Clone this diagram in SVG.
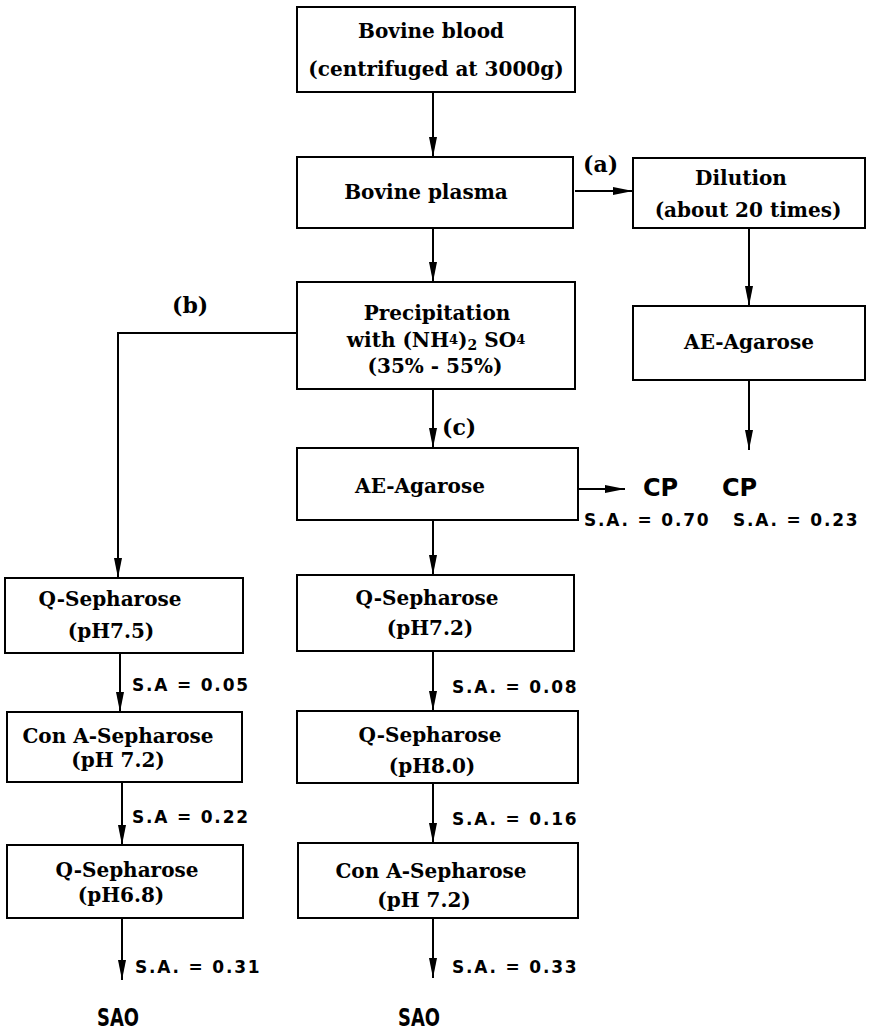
<svg xmlns="http://www.w3.org/2000/svg" width="870" height="1034" viewBox="0 0 870 1034">
  <style>
    .box { fill: #fff; stroke: #000; stroke-width: 2; }
    .lbl { font-family: "DejaVu Serif", "Liberation Serif", serif; font-weight: bold; font-size: 20px; fill: #000; text-anchor: middle; }
    .tag { font-family: "DejaVu Serif", "Liberation Serif", serif; font-weight: bold; font-size: 22px; fill: #000; }
    .sa { font-family: "DejaVu Sans", "Liberation Sans", sans-serif; font-weight: bold; font-size: 17px; letter-spacing: 1.8px; fill: #000; }
    .cp { font-family: "DejaVu Sans", "Liberation Sans", sans-serif; font-weight: bold; font-size: 24px; fill: #000; }
    .sao { font-family: "DejaVu Sans", "Liberation Sans", sans-serif; font-weight: bold; font-size: 24px; fill: #000; }
    .wire { fill: none; stroke: #000; stroke-width: 2; }
  </style>
  <defs>
    <marker id="arrow" viewBox="0 0 20 8" markerWidth="20" markerHeight="8" refX="20" refY="4" orient="auto" markerUnits="userSpaceOnUse">
      <path d="M0,0 L20,4 L0,8 z" fill="#000"/>
    </marker>
  </defs>
  <rect width="870" height="1034" fill="#fff"/>

  <!-- connectors -->
  <g id="connectors">
    <path class="wire" d="M433,92 V157" marker-end="url(#arrow)"/>
    <path class="wire" d="M575,191 H633" marker-end="url(#arrow)"/>
    <path class="wire" d="M749,228 V306" marker-end="url(#arrow)"/>
    <path class="wire" d="M749,380 V450" marker-end="url(#arrow)"/>
    <path class="wire" d="M433,228 V282" marker-end="url(#arrow)"/>
    <path class="wire" d="M297,333 H118 V578" marker-end="url(#arrow)"/>
    <path class="wire" d="M433,389 V448" marker-end="url(#arrow)"/>
    <path class="wire" d="M578,489 H625" marker-end="url(#arrow)"/>
    <path class="wire" d="M433,520 V575" marker-end="url(#arrow)"/>
    <path class="wire" d="M120,653 V712" marker-end="url(#arrow)"/>
    <path class="wire" d="M433,651 V711" marker-end="url(#arrow)"/>
    <path class="wire" d="M122,782 V845" marker-end="url(#arrow)"/>
    <path class="wire" d="M433,783 V843" marker-end="url(#arrow)"/>
    <path class="wire" d="M122,918 V980" marker-end="url(#arrow)"/>
    <path class="wire" d="M433,918 V978" marker-end="url(#arrow)"/>
  </g>

  <!-- branch labels -->
  <g id="branch-labels">
    <text class="tag" x="583" y="172">(a)</text>
    <text class="tag" x="172" y="313">(b)</text>
    <text class="tag" x="442" y="435">(c)</text>
  </g>

  <g id="bovine-blood">
    <rect class="box" x="297" y="7" width="278" height="85"/>
    <text class="lbl" x="431" y="38">Bovine blood</text>
    <text class="lbl" x="436" y="76">(centrifuged at 3000g)</text>
  </g>

  <g id="bovine-plasma">
    <rect class="box" x="297" y="157" width="276" height="71"/>
    <text class="lbl" x="426" y="199">Bovine plasma</text>
  </g>

  <g id="dilution">
    <rect class="box" x="633" y="158" width="232" height="70"/>
    <text class="lbl" x="741" y="185">Dilution</text>
    <text class="lbl" x="748" y="217">(about 20 times)</text>
  </g>

  <g id="ae-agarose-right">
    <rect class="box" x="633" y="306" width="232" height="74"/>
    <text class="lbl" x="749" y="349">AE-Agarose</text>
  </g>

  <g id="precipitation">
    <rect class="box" x="297" y="282" width="278" height="107"/>
    <text class="lbl" x="437" y="320">Precipitation</text>
    <text class="lbl" x="436" y="347">with (NH<tspan font-size="13" dy="-3">4</tspan><tspan dy="3">)</tspan><tspan font-size="14" dy="3">2</tspan><tspan dy="-3"> SO</tspan><tspan font-size="13" dy="-3">4</tspan></text>
    <text class="lbl" x="435" y="373">(35% - 55%)</text>
  </g>

  <g id="ae-agarose-mid">
    <rect class="box" x="297" y="448" width="281" height="72"/>
    <text class="lbl" x="420" y="493">AE-Agarose</text>
  </g>

  <g id="cp-outputs">
    <text class="cp" x="643" y="496">CP</text>
    <text class="cp" x="722" y="496">CP</text>
    <text class="sa" x="584" y="526">S.A. = 0.70</text>
    <text class="sa" x="733" y="526">S.A. = 0.23</text>
  </g>

  <!-- left column -->
  <g id="q-sepharose-75">
    <rect class="box" x="5" y="578" width="238" height="75"/>
    <text class="lbl" x="110" y="606">Q-Sepharose</text>
    <text class="lbl" x="111" y="638">(pH7.5)</text>
  </g>
  <text class="sa" x="132" y="691">S.A = 0.05</text>

  <g id="con-a-left">
    <rect class="box" x="7" y="712" width="235" height="70"/>
    <text class="lbl" x="118" y="743">Con A-Sepharose</text>
    <text class="lbl" x="118" y="767">(pH 7.2)</text>
  </g>
  <text class="sa" x="132" y="823">S.A = 0.22</text>

  <g id="q-sepharose-68">
    <rect class="box" x="7" y="845" width="236" height="73"/>
    <text class="lbl" x="127" y="877">Q-Sepharose</text>
    <text class="lbl" x="121" y="902">(pH6.8)</text>
  </g>
  <text class="sa" x="135" y="973">S.A. = 0.31</text>
  <text class="sao" x="97" y="1026" textLength="42" lengthAdjust="spacingAndGlyphs">SAO</text>

  <!-- middle column -->
  <g id="q-sepharose-72">
    <rect class="box" x="297" y="575" width="277" height="76"/>
    <text class="lbl" x="427" y="605">Q-Sepharose</text>
    <text class="lbl" x="430" y="635">(pH7.2)</text>
  </g>
  <text class="sa" x="452" y="693">S.A. = 0.08</text>

  <g id="q-sepharose-80">
    <rect class="box" x="297" y="711" width="281" height="72"/>
    <text class="lbl" x="430" y="742">Q-Sepharose</text>
    <text class="lbl" x="432" y="773">(pH8.0)</text>
  </g>
  <text class="sa" x="452" y="825">S.A. = 0.16</text>

  <g id="con-a-mid">
    <rect class="box" x="298" y="843" width="280" height="75"/>
    <text class="lbl" x="431" y="878">Con A-Sepharose</text>
    <text class="lbl" x="424" y="907">(pH 7.2)</text>
  </g>
  <text class="sa" x="452" y="973">S.A. = 0.33</text>
  <text class="sao" x="398" y="1026" textLength="42" lengthAdjust="spacingAndGlyphs">SAO</text>
</svg>
